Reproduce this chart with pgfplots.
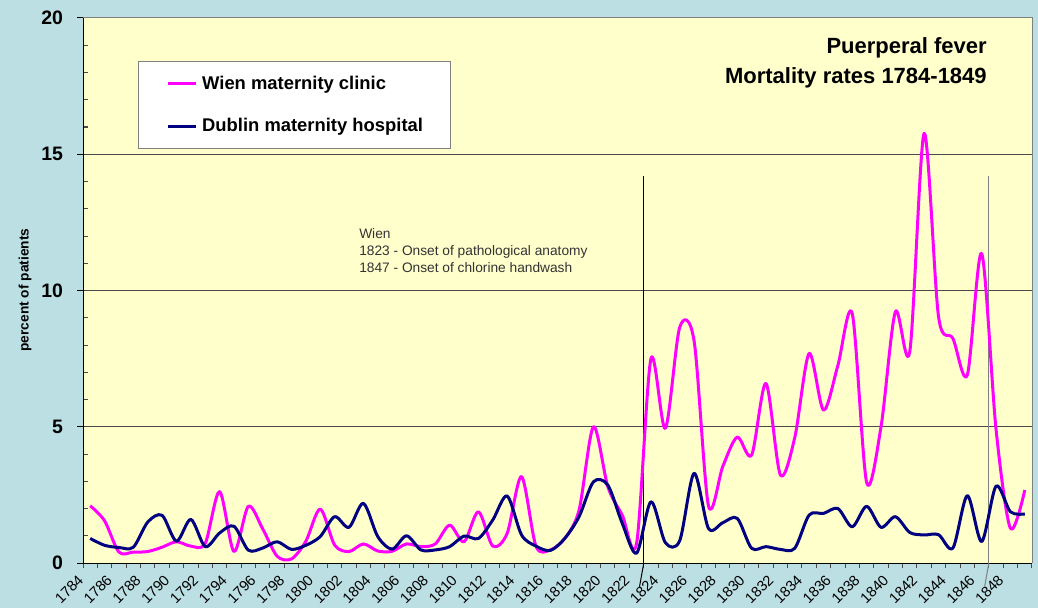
\documentclass[border=0pt]{standalone}
\usepackage{pgfplots}
\usepackage{pgfplotstable}
\pgfplotsset{compat=1.18}
\usepackage{fontspec}
\setmainfont{Liberation Sans}
\definecolor{bgblue}{HTML}{BCDFE3}
\definecolor{plotyellow}{HTML}{FFFFCC}
\definecolor{wien}{HTML}{FF00FF}
\definecolor{dublin}{HTML}{000080}
\definecolor{gridc}{HTML}{4A4A4A}
\definecolor{annot}{HTML}{333333}
\definecolor{bordergray}{HTML}{808080}

\pgfplotstableread{
year wien dublin
1784 2.10 0.90
1785 1.55 0.65
1786 0.40 0.57
1787 0.40 0.58
1788 0.42 1.50
1789 0.58 1.75
1790 0.78 0.80
1791 0.62 1.60
1792 0.72 0.60
1793 2.62 1.10
1794 0.42 1.35
1795 2.08 0.47
1796 1.25 0.55
1797 0.25 0.78
1798 0.15 0.50
1799 0.80 0.65
1800 1.98 0.97
1801 0.66 1.70
1802 0.42 1.31
1803 0.70 2.19
1804 0.44 0.97
1805 0.43 0.51
1806 0.70 1.00
1807 0.60 0.48
1808 0.70 0.48
1809 1.39 0.60
1810 0.78 0.99
1811 1.88 0.90
1812 0.62 1.58
1813 1.09 2.46
1814 3.17 1.03
1815 0.62 0.62
1816 0.48 0.46
1817 0.90 0.90
1818 1.94 1.70
1819 5.00 2.98
1820 2.80 2.86
1821 1.76 1.46
1822 0.72 0.36
1823 7.50 2.25
1824 4.94 0.75
1825 8.65 0.82
1826 8.15 3.29
1827 2.10 1.27
1828 3.55 1.48
1829 4.62 1.64
1830 3.96 0.54
1831 6.59 0.60
1832 3.23 0.50
1833 4.60 0.54
1834 7.69 1.76
1835 5.61 1.82
1836 7.25 2.00
1837 9.15 1.33
1838 2.96 2.08
1839 5.00 1.31
1840 9.22 1.70
1841 7.76 1.12
1842 15.77 1.03
1843 9.04 1.04
1844 8.24 0.55
1845 6.90 2.47
1846 11.36 0.79
1847 4.90 2.82
1848 1.27 1.88
1849 2.68 1.80
}\mortality

\begin{document}
\begin{tikzpicture}
\fill[bgblue] (0,0) rectangle (778.5pt,456pt);
\useasboundingbox (0,0) rectangle (778.5pt,456pt);
\begin{axis}[
  at={(62.25pt,33.75pt)}, anchor=south west,
  scale only axis, width=711.75pt, height=408.75pt,
  xmin=1783.5, xmax=1849.5, ymin=0, ymax=20,
  axis background/.style={fill=plotyellow},
  axis line style={draw=none},
  tick pos=left, tick align=outside,
  xtick={1784,1786,...,1848},
  minor xtick={1783.5,1784.5,...,1849.5},
  major x tick style={draw=none},
  minor x tick style={draw=gridc, line width=0.75pt},
  minor tick length=3.75pt,
  major tick length=4.5pt,
  ytick={0,5,10,15,20},
  major y tick style={draw=black, line width=0.75pt},
  ymajorgrids, grid style={draw=gridc, line width=0.75pt},
  /pgf/number format/1000 sep={},
  /pgf/number format/assume math mode=true,
  xticklabel style={font=\fontsize{11}{13}\selectfont, inner sep=0pt, xshift=-10pt, yshift=-3.5pt, rotate=45, anchor=north east},
  yticklabel style={font=\bfseries\fontsize{14.6}{16}\selectfont, inner sep=0pt, anchor=east, xshift=-10.3pt},
  legend style={at={(rel axis cs:0.0576,0.921)}, anchor=north west, draw=bordergray, line width=0.75pt, fill=white,
    inner xsep=21pt, inner ysep=11pt, row sep=20.3pt, column sep=3.75pt,
    font=\bfseries\fontsize{13.8}{16}\selectfont, cells={anchor=west}, nodes={inner sep=0pt}},
  legend image code/.code={\draw[#1] (0pt,0pt) -- (21pt,0pt);},
]
\pgfplotsinvokeforeach{1,2,3,4,6,7,8,9,11,12,13,14,16,17,18,19}{
  \draw[gridc, line width=0.75pt] (axis cs:1783.5,#1) -- ++(3.75pt,0pt);
}
\draw[black, line width=0.75pt] (axis cs:1822.5,0) -- (axis cs:1822.5,14.2);
\draw[bordergray, line width=0.9pt] (axis cs:1846.5,0) -- (axis cs:1846.5,14.2);
\coordinate (SW) at (rel axis cs:0,0);
\coordinate (NE) at (rel axis cs:1,1);
\coordinate (L1) at (axis cs:1822.5,0);
\coordinate (L2) at (axis cs:1846.5,0);
\addplot[wien, line width=2.25pt, smooth, line join=round] table[x=year, y=wien] {\mortality};
\addlegendentry{Wien maternity clinic}
\addplot[dublin, line width=2.25pt, smooth, line join=round] table[x=year, y=dublin] {\mortality};
\addlegendentry{Dublin maternity hospital}
\end{axis}
\draw[bordergray, line width=0.75pt] (SW|-NE) -- (NE) -- (NE|-SW);
\draw[black, line width=0.75pt] (SW|-NE) -- (SW) -- (NE|-SW);
\draw[black, line width=0.75pt] (L1) -- ++(-3.2pt,-17.8pt);
\draw[bordergray, line width=0.75pt] (L2) -- ++(-3.2pt,-17.8pt);
\node[anchor=base east, inner sep=0pt, font=\bfseries\fontsize{16.5}{19}\selectfont] at (740.25pt,415.5pt) {Puerperal fever};
\node[anchor=base east, inner sep=0pt, font=\bfseries\fontsize{16.5}{19}\selectfont] at (740.25pt,393.5pt) {Mortality rates 1784-1849};
\node[anchor=base west, inner sep=0pt, text=annot, font=\fontsize{10.3}{12}\selectfont] at (269.25pt,277.5pt) {Wien};
\node[anchor=base west, inner sep=0pt, text=annot, font=\fontsize{10.3}{12}\selectfont] at (269.25pt,264.75pt) {1823 - Onset of pathological anatomy};
\node[anchor=base west, inner sep=0pt, text=annot, font=\fontsize{10.3}{12}\selectfont] at (269.25pt,251.5pt) {1847 - Onset of chlorine handwash};
\node[rotate=90, inner sep=0pt, font=\bfseries\fontsize{10.3}{12}\selectfont] at (18.75pt,238.5pt) {percent of patients};
\end{tikzpicture}
\end{document}
